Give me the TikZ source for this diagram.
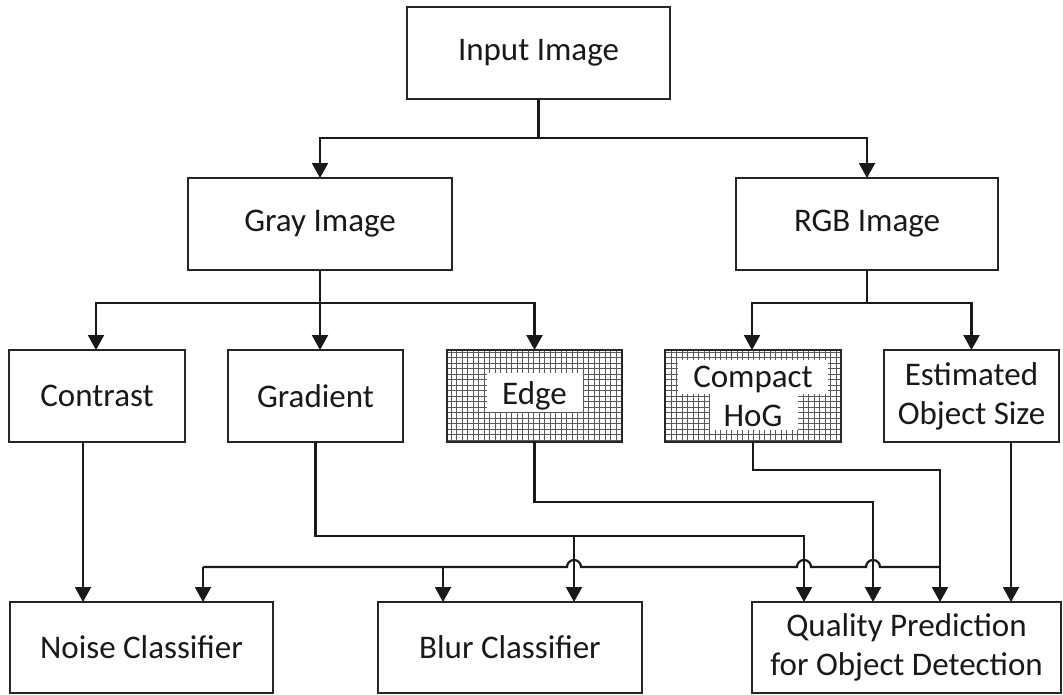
\documentclass[tikz,border=0pt]{standalone}
\usepackage{fontspec}
\setmainfont{Carlito}
\usetikzlibrary{arrows.meta,backgrounds}
\begin{document}
\begin{tikzpicture}[x=1pt,y=-1pt,
  box/.style={draw=black!85, line width=2pt, inner sep=0pt, outer sep=0pt, align=center,
    font=\fontsize{33}{39}\selectfont, text=black!90},
  arr/.style={draw=black!90, line width=2.2pt, -{Triangle[width=16pt,length=15pt]}},
  conn/.style={draw=black!90, line width=2.2pt},
  gridline/.style={draw=black!65, line width=0.7pt},
  blank/.style={fill=white, draw=none}]
\useasboundingbox (0,0) rectangle (1063,694);

% nodes
\node[box, minimum width=263pt, minimum height=92pt] (in) at (538.5,53) {\raisebox{-3pt}{Input Image}};
\node[box, minimum width=264pt, minimum height=92pt] (gray) at (320,224) {Gray Image};
\node[box, minimum width=262pt, minimum height=92pt] (rgb) at (867,224) {RGB Image};
\node[box, minimum width=176pt, minimum height=92pt] (contrast) at (97,396) {Contrast};
\node[box, minimum width=175pt, minimum height=92pt] (gradient) at (315.5,396) {Gradient};
\node[box, minimum width=175pt, minimum height=92pt] (edge) at (534.5,396) {Edge};
\node[box, minimum width=176pt, minimum height=92pt] (hog) at (753,396) {Compact\\HoG};
\node[box, minimum width=175pt, minimum height=92pt] (est) at (971.5,396) {Estimated\\Object Size};
\node[box, minimum width=263pt, minimum height=91pt] (noise) at (141.5,647.5) {Noise Classifier};
\node[box, minimum width=264pt, minimum height=91pt] (blur) at (510,647.5) {Blur Classifier};
\node[box, minimum width=309pt, minimum height=91pt] (quality) at (906.5,647.5) {Quality Prediction\\for Object Detection};

% background: white page, grid hatching, white text areas
\begin{scope}[on background layer]
  \fill[white] (0,0) rectangle (1063,694);
  \begin{scope}
    \clip (edge.south west) rectangle (edge.north east);
    \draw[gridline, step=5.5pt] (edge.south west) grid (edge.north east);
  \end{scope}
  \begin{scope}
    \clip (hog.south west) rectangle (hog.north east);
    \draw[gridline, step=5.5pt] (hog.south west) grid (hog.north east);
  \end{scope}
  \fill[blank] (487,373) rectangle (583,412);
  \fill[blank] (678,360) rectangle (828,394);
  \fill[blank] (710,393) rectangle (798,430);
\end{scope}

% junction coordinates
\coordinate (j1) at (538.5,138);
\coordinate (j2) at (320,303);
\coordinate (j3) at (867,303);
\coordinate (g1) at (574,536);
\coordinate (g2) at (804,536);
\coordinate (e1) at (873,502);
\coordinate (h1) at (940,470);
\coordinate (h2) at (940,567);
\coordinate (n1) at (203,567);
\coordinate (b1) at (443,567);

% level 1
\draw[conn] (in.south) -- (j1);
\draw[arr] (j1) -| (gray.north);
\draw[arr] (j1) -| (rgb.north);

% level 2
\draw[conn] (gray.south) -- (j2);
\draw[arr] (j2) -| ([xshift=-1pt]contrast.north);
\draw[arr] (j2) -- (j2 |- gradient.north);
\draw[arr] (j2) -| (edge.north);
\draw[conn] (rgb.south) -- (j3);
\draw[arr] (j3) -| ([xshift=-1pt]hog.north);
\draw[arr] (j3) -| (est.north);

% level 3
\draw[arr] ([xshift=-14pt]contrast.south) -- ([xshift=-14pt]contrast.south |- noise.north);
\draw[arr] (gradient.south) |- (g2) -- (g2 |- quality.north);
\draw[arr] (g1) -- (g1 |- blur.north);
\draw[arr] (edge.south) |- (e1) -- (e1 |- quality.north);
\draw[arr] (hog.south) |- (h1) -- (h1 |- quality.north);
\draw[conn] (h2) -- (880,567) arc[start angle=0, end angle=180, radius=7pt]
  -- (811,567) arc[start angle=0, end angle=180, radius=7pt]
  -- (581,567) arc[start angle=0, end angle=180, radius=7pt]
  -- (n1);
\draw[arr] (n1) -- (n1 |- noise.north);
\draw[arr] (b1) -- (b1 |- blur.north);
\draw[arr] ([xshift=39.5pt]est.south) -- ([xshift=39.5pt]est.south |- quality.north);
\end{tikzpicture}
\end{document}
